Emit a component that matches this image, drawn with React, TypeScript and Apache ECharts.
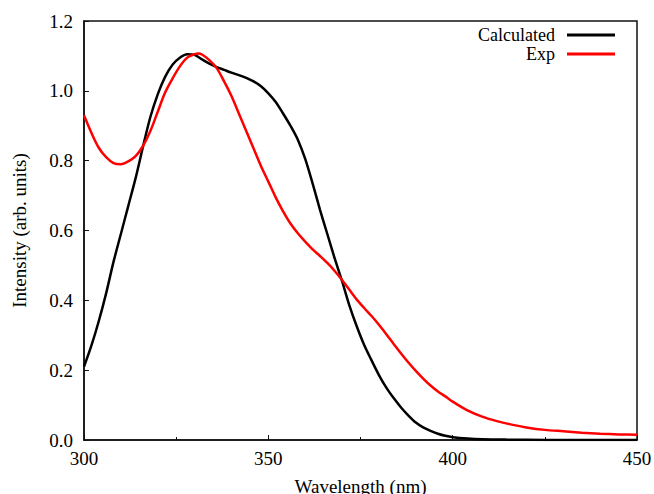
import React, { useEffect, useRef } from "react";
import * as echarts from "echarts";

const calcX = [300, 302, 304, 306, 308, 310, 312, 314, 316, 318, 320, 322, 324, 326, 328, 330, 332, 334, 336, 338, 340, 342, 344, 346, 348, 350, 352, 354, 356, 358, 360, 362, 364, 366, 368, 370, 372, 374, 376, 378, 380, 382, 384, 386, 388, 390, 392, 394, 396, 398, 400, 404, 408, 415, 425, 450];
const calcY = [0.21, 0.27, 0.34, 0.42, 0.51, 0.59, 0.67, 0.75, 0.84, 0.925, 0.99, 1.04, 1.075, 1.095, 1.105, 1.103, 1.09, 1.078, 1.068, 1.06, 1.052, 1.045, 1.037, 1.027, 1.013, 0.993, 0.968, 0.935, 0.9, 0.86, 0.805, 0.735, 0.66, 0.59, 0.52, 0.455, 0.385, 0.325, 0.272, 0.228, 0.186, 0.15, 0.12, 0.093, 0.07, 0.05, 0.036, 0.026, 0.018, 0.012, 0.008, 0.004, 0.002, 0.001, 0.0003, 0];

const expX = [300, 302, 304, 306, 308, 310, 312, 314, 316, 318, 320, 322, 324, 326, 328, 330, 331, 332, 334, 336, 338, 340, 342, 344, 346, 348, 350, 352, 354, 356, 358, 360, 362, 364, 366, 368, 370, 372, 374, 376, 378, 380, 382, 384, 386, 388, 390, 392, 394, 396, 398, 400, 404, 408, 412, 416, 420, 425, 430, 435, 440, 445, 450];
const expY = [0.93, 0.88, 0.837, 0.81, 0.793, 0.79, 0.798, 0.813, 0.842, 0.885, 0.94, 0.995, 1.035, 1.07, 1.095, 1.105, 1.107, 1.104, 1.088, 1.065, 1.027, 0.985, 0.935, 0.885, 0.835, 0.785, 0.74, 0.695, 0.655, 0.62, 0.592, 0.568, 0.546, 0.527, 0.507, 0.484, 0.458, 0.43, 0.402, 0.378, 0.355, 0.33, 0.303, 0.275, 0.248, 0.222, 0.198, 0.176, 0.156, 0.139, 0.125, 0.11, 0.085, 0.067, 0.054, 0.044, 0.036, 0.029, 0.025, 0.021, 0.018, 0.016, 0.015];

const seriesNames = ["Calculated", "Exp"];
const xTitle = "Wavelength (nm)";
const yTitle = "Intensity (arb. units)";

const FONT = "'Liberation Serif', 'DejaVu Serif', serif";

export default function App() {
  const ref = useRef<HTMLDivElement>(null);
  useEffect(() => {
    if (!ref.current) return;
    const chart = echarts.init(ref.current, null, { renderer: "svg" });
    const calcData = calcX.map((x, i) => [x, calcY[i]]);
    const expData = expX.map((x, i) => [x, expY[i]]);
    chart.setOption({
      animation: false,
      backgroundColor: "#ffffff",
      textStyle: { fontFamily: FONT },
      grid: {
        left: 84,
        right: 17,
        top: 21,
        bottom: 54,
        outerBoundsMode: "none",
        containLabel: false,
        show: true,
        borderColor: "#111",
        borderWidth: 1.5,
        backgroundColor: "transparent",
      },
      legend: {
        orient: "vertical",
        right: 34,
        top: 21,
        align: "right",
        itemWidth: 48,
        itemHeight: 3,
        itemGap: 1,
        icon: "rect",
        textStyle: {
          fontFamily: FONT,
          fontSize: 18,
          color: "#000",
          lineHeight: 17,
          padding: [0, 7, 0, 0],
        },
        data: seriesNames,
      },
      xAxis: {
        type: "value",
        min: 300,
        max: 450,
        interval: 50,
        name: xTitle,
        nameLocation: "middle",
        nameGap: 37,
        nameTextStyle: { fontFamily: FONT, fontSize: 19, color: "#000" },
        axisLine: { show: true, onZero: false, lineStyle: { color: "#111", width: 1.5 } },
        axisTick: { show: true, inside: true, length: 5, lineStyle: { color: "#111", width: 1 } },
        minorTick: { show: true, splitNumber: 2, length: 3, lineStyle: { color: "#111", width: 1 } },
        axisLabel: { fontFamily: FONT, fontSize: 19, color: "#000", margin: 9 },
        splitLine: { show: false },
      },
      yAxis: {
        type: "value",
        min: 0,
        max: 1.2,
        interval: 0.2,
        name: yTitle,
        nameLocation: "middle",
        nameGap: 55,
        nameTextStyle: { fontFamily: FONT, fontSize: 19, color: "#000" },
        axisLine: { show: true, onZero: false, lineStyle: { color: "#111", width: 1.5 } },
        axisTick: { show: true, inside: true, length: 5, lineStyle: { color: "#111", width: 1 } },
        axisLabel: {
          fontFamily: FONT,
          fontSize: 19,
          color: "#000",
          margin: 11,
          formatter: (v: number) => v.toFixed(1),
        },
        splitLine: { show: false },
      },
      series: [
        {
          name: seriesNames[0],
          type: "line",
          data: calcData,
          symbol: "none",
          smooth: 0.3,
          color: "#000000",
          lineStyle: { color: "#000000", width: 2.5 },
          z: 3,
        },
        {
          name: seriesNames[1],
          type: "line",
          data: expData,
          symbol: "none",
          smooth: 0.3,
          color: "#ff0000",
          lineStyle: { color: "#ff0000", width: 2.5 },
          z: 4,
        },
      ],
    });
    return () => chart.dispose();
  }, []);
  return <div ref={ref} style={{ width: 654, height: 494, position: "absolute", left: 0, top: 0 }} />;
}
